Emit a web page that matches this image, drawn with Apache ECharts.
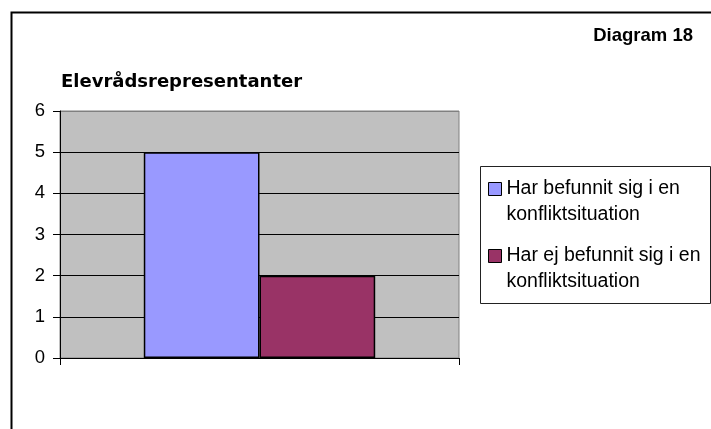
<!DOCTYPE html>
<html><head><meta charset="utf-8">
<script src="https://cdn.jsdelivr.net/npm/echarts@6/dist/echarts.min.js"></script>
<style>html,body{margin:0;padding:0;background:#fff}#c{width:711px;height:429px}</style>
</head><body><div id="c"></div>
<script>
var categories = [''];
var seriesNames = ['Har befunnit sig i en\nkonfliktsituation', 'Har ej befunnit sig i en\nkonfliktsituation'];
var valuesA = [5];
var valuesB = [2];
var colors = ['#9999FF', '#993366'];
var titleText = 'Elevrådsrepresentanter';
var cornerText = 'Diagram 18';

var chart = echarts.init(document.getElementById('c'), null, {renderer: 'canvas'});
var font = '"Liberation Sans", Arial, sans-serif';
chart.setOption({
  animation: false,
  textStyle: {fontFamily: font},
  title: [
    {text: titleText, left: 61, top: 73, padding: 0, textStyle: {fontSize: 18, fontWeight: 'bold', color: '#000', fontFamily: '"DejaVu Sans", sans-serif'}},
    {text: cornerText, right: 18, top: 26, padding: 0, textStyle: {fontSize: 18.5, fontWeight: 'bold', color: '#000', fontFamily: font}}
  ],
  graphic: [
    {type: 'rect', left: 9, top: 10, shape: {width: 740, height: 460}, style: {fill: null, stroke: '#000', lineWidth: 2}, silent: true, z: -1},
    {type: 'rect', left: 480, top: 166, shape: {width: 230, height: 137}, style: {fill: '#fff', stroke: '#222', lineWidth: 1}, silent: true, z: 0}
  ],
  legend: {
    orient: 'vertical', left: 488, top: 150, padding: 0, itemWidth: 13, itemHeight: 13, itemGap: -11,
    icon: 'rect', z: 5,
    itemStyle: {borderColor: '#000', borderWidth: 1},
    formatter: function (name) { return '\n' + name; },
    textStyle: {fontSize: 19.5, lineHeight: 26, color: '#000', fontFamily: font},
    data: seriesNames
  },
  grid: {left: 60, right: 252, top: 111, bottom: 71, show: true, backgroundColor: '#C0C0C0', borderColor: '#808080', borderWidth: 1},
  xAxis: {
    type: 'category', data: categories,
    axisLine: {lineStyle: {color: '#000', width: 1}},
    axisTick: {show: true, length: 7, lineStyle: {color: '#000'}},
    axisLabel: {show: false}
  },
  yAxis: {
    type: 'value', min: 0, max: 6, interval: 1,
    axisLine: {show: true, lineStyle: {color: '#000', width: 1}},
    axisTick: {show: true, length: 7, lineStyle: {color: '#000'}},
    axisLabel: {fontSize: 18.5, color: '#000', margin: 15, fontFamily: font},
    splitLine: {show: true, lineStyle: {color: ['#000', '#000', '#000', '#000', '#000', '#000', '#808080'], width: 1}}
  },
  series: [
    {name: seriesNames[0], type: 'bar', data: valuesA, barGap: '0%', barCategoryGap: '42%',
     itemStyle: {color: colors[0], borderColor: '#000', borderWidth: 1.5}},
    {name: seriesNames[1], type: 'bar', data: valuesB, barGap: '0%', barCategoryGap: '42%',
     itemStyle: {color: colors[1], borderColor: '#000', borderWidth: 1.5}}
  ]
});
</script></body></html>
